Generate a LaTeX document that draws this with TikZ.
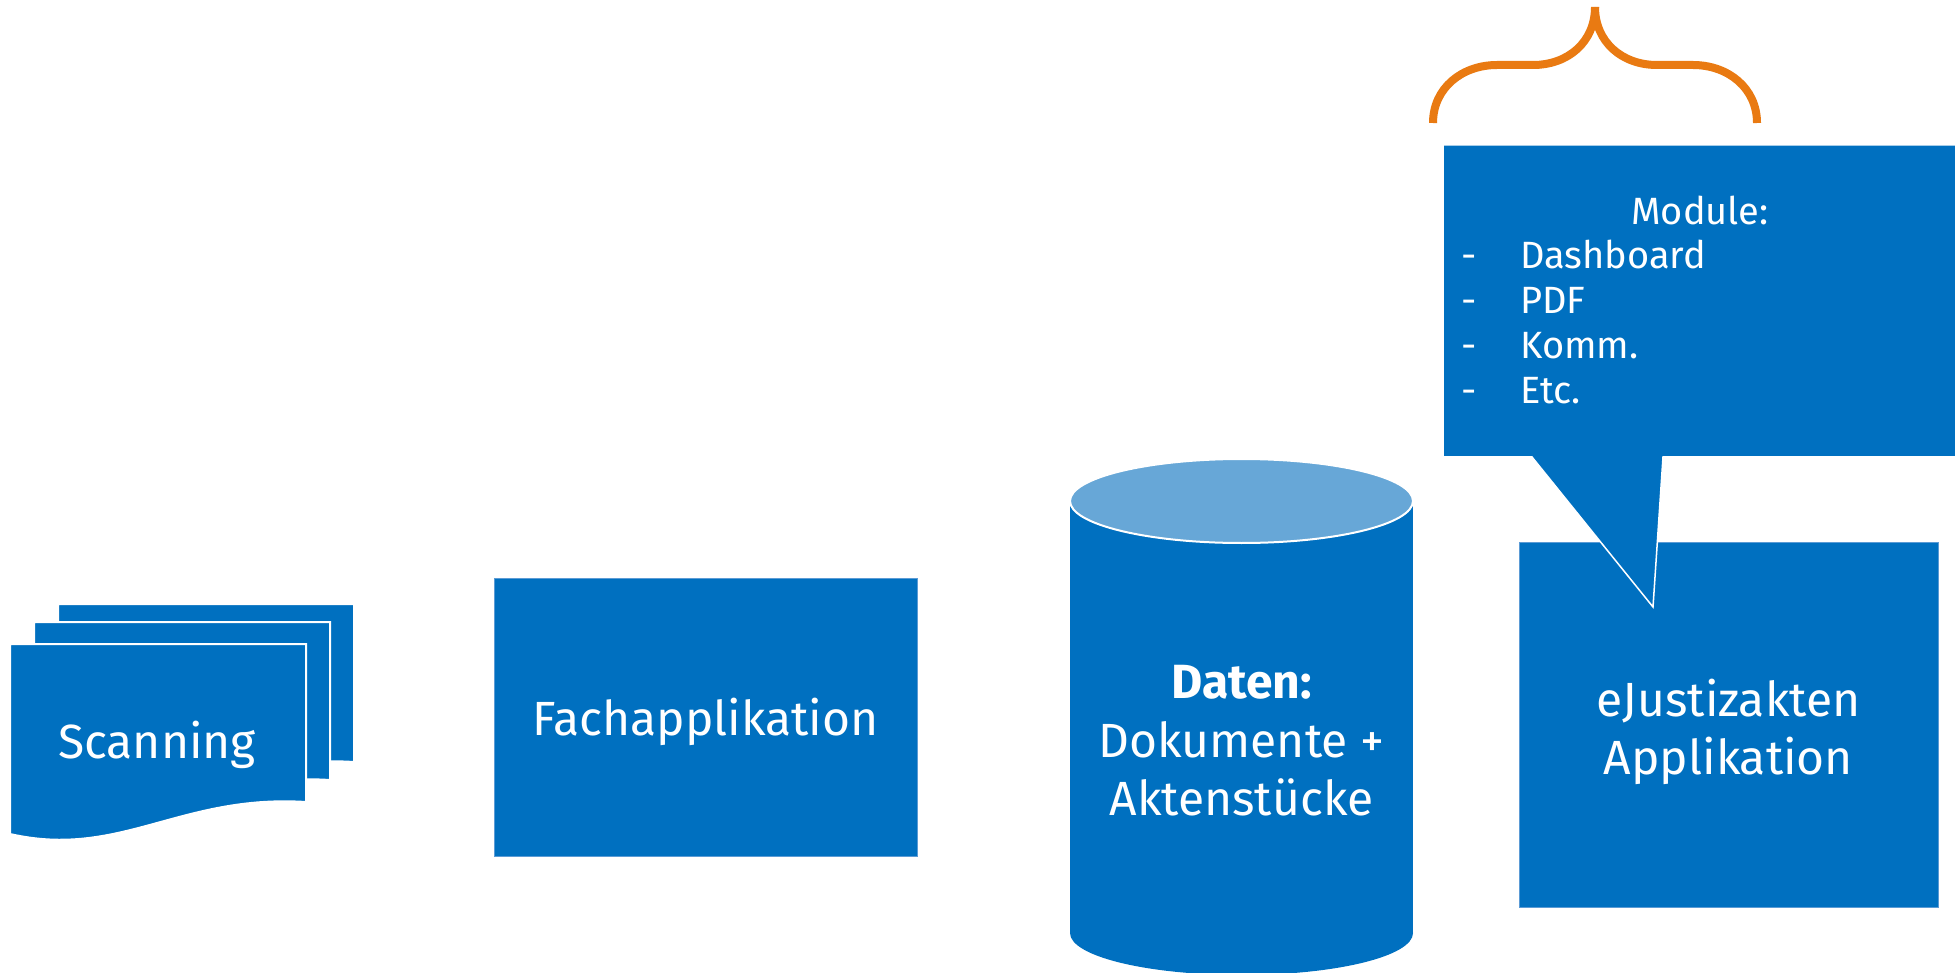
\documentclass[tikz,border=0pt]{standalone}
\usepackage{fontspec}
\setmainfont{Fira Sans}
\definecolor{mainblue}{RGB}{0,112,192}
\definecolor{lightblue}{RGB}{103,167,215}
\definecolor{edgeblue}{RGB}{91,155,213}
\definecolor{braceorange}{RGB}{233,122,18}
\begin{document}
\begin{tikzpicture}[x=1pt,y=-1pt,
  bigtext/.style={text=white,inner sep=0pt,font=\fontsize{48}{58}\selectfont},
  smalltext/.style={text=white,inner sep=0pt,font=\fontsize{38}{45}\selectfont},
  pagefill/.style={fill=mainblue,draw=white,line width=2pt},
  boxfill/.style={fill=mainblue,draw=edgeblue,line width=1pt},
  bracestroke/.style={draw=braceorange,line width=8pt,line cap=butt}]
\useasboundingbox (0,0) rectangle (1955,973);
\fill[white] (0,0) rectangle (1955,973);

% scanning stack of pages
\foreach \xo/\yo in {58/604,34/622,10/644}{
  \path[pagefill] (\xo,\yo) -- ++(296,0) -- ++(0,158)
    .. controls ++(-126,-8) and ++(110,25) .. ++(-296,32) -- cycle;
}
\node[bigtext,anchor=base] (scan) at (157,758) {Scanning};

% Fachapplikation
\path[boxfill] (494,578) rectangle (917,856);
\node[bigtext,anchor=base] (fach) at (705.5,735) {Fachapplikation};

% cylinder
\fill[mainblue] (1070,501) rectangle (1413,933);
\fill[mainblue] (1241.5,933) ellipse[x radius=171.5,y radius=42];
\path[fill=lightblue,draw=white,line width=2pt] (1241.5,501) ellipse[x radius=171.5,y radius=42];
\node[bigtext,anchor=base,font=\fontsize{48}{58}\selectfont\bfseries] (daten) at (1241.5,698) {Daten:};
\node[bigtext,anchor=base] (dok) at (1241.5,757) {Dokumente +};
\node[bigtext,anchor=base] (akten) at (1241.5,815) {Aktenstücke};

% eJustizakten box
\path[boxfill] (1519,542) rectangle (1938,907);
\node[bigtext,anchor=base] (ej) at (1728.5,716) {eJustizakten};
\node[bigtext,anchor=base] (app) at (1728.5,774) {Applikation};

% callout
\path[fill=mainblue,draw=white,line width=1.5pt,line join=miter]
  (1443,145) -- (1962,145) -- (1962,457) -- (1663,457) -- (1653,607)
  -- (1532,457) -- (1443,457) -- cycle;
\node[smalltext,anchor=base] (mod) at (1700,225) {Module:};
\foreach \y/\t/\n in {269/Dashboard/a,314/PDF/b,359/Komm./c,404/Etc./d}{
  \node[smalltext,anchor=base west] (dash\n) at (1461,\y) {-};
  \node[smalltext,anchor=base west] (item\n) at (1520,\y) {\t};
}

% brace
\coordinate (bl) at (1433,123);
\coordinate (br) at (1757,123);
\coordinate (btip) at (1595,7);
\path[bracestroke] (bl) .. controls (1433,88) and (1462,65) .. (1497,65)
  -- (1533,65) .. controls (1568,65) and (1595,42) .. (btip);
\path[bracestroke] (br) .. controls (1757,88) and (1728,65) .. (1693,65)
  -- (1657,65) .. controls (1622,65) and (1595,42) .. (btip);
\end{tikzpicture}
\end{document}
